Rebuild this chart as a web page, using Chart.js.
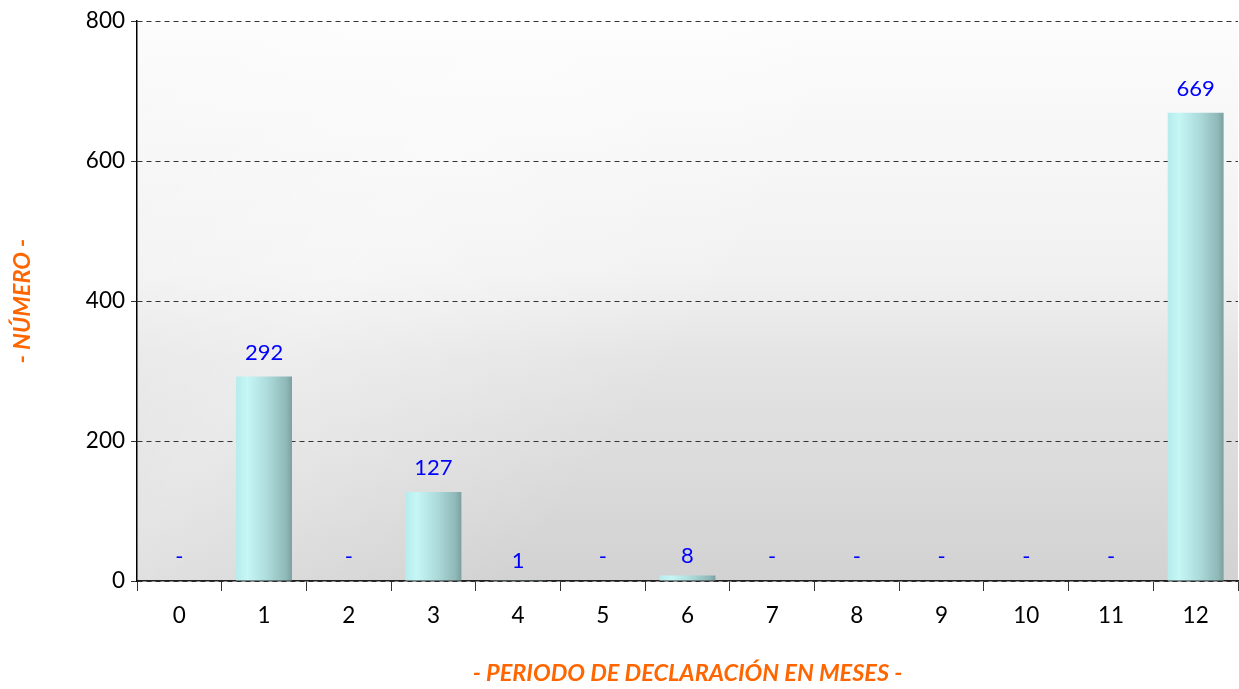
<!DOCTYPE html>
<html>
<head>
<meta charset="utf-8">
<script src="https://cdn.jsdelivr.net/npm/chart.js@4"></script>
<style>
  html, body { margin: 0; padding: 0; background: #ffffff; }
  #wrap { width: 1239px; height: 689px; }
</style>
</head>
<body>
<div id="wrap"><canvas id="myChart"></canvas></div>
<script>
const meses = ["0", "1", "2", "3", "4", "5", "6", "7", "8", "9", "10", "11", "12"];
const numero = [0, 292, 0, 127, 1, 0, 8, 0, 0, 0, 0, 0, 669];
const yTicks = [0, 200, 400, 600, 800];

const fontName = 'Lato, "Open Sans", sans-serif';

// plot area background (grey fade towards the bottom)
const plotBg = {
    id: 'plotBg',
    beforeDraw(chart) {
        const a = chart.chartArea;
        const c = chart.ctx;
        c.save();
        const g = c.createLinearGradient(0, a.top, 0, a.bottom);
        g.addColorStop(0, '#fcfcfc');
        g.addColorStop(0.45, '#f1f1f1');
        g.addColorStop(0.6, '#e4e4e4');
        g.addColorStop(1, '#d2d2d2');
        c.fillStyle = g;
        c.fillRect(a.left, a.top, a.right - a.left, a.bottom - a.top);
        const h = c.createLinearGradient(a.left, a.top, a.left + 500, a.top + 400);
        h.addColorStop(0, 'rgba(255,255,255,0.0)');
        h.addColorStop(0.5, 'rgba(255,255,255,0.35)');
        h.addColorStop(1, 'rgba(255,255,255,0.0)');
        c.fillStyle = h;
        c.fillRect(a.left, a.top, a.right - a.left, a.bottom - a.top);
        c.restore();
    }
};

// value labels above bars, "-" for zeros
const barLabels = {
    id: 'barLabels',
    afterDatasetsDraw(chart) {
        const c = chart.ctx;
        const meta = chart.getDatasetMeta(0);
        c.save();
        c.fillStyle = '#0000ff';
        c.font = '22px ' + fontName;
        c.textAlign = 'center';
        c.textBaseline = 'middle';
        meta.data.forEach((bar, i) => {
            const v = numero[i];
            const off = (v > 0 && v < 20) ? 19 : 24;
            c.fillText(v === 0 ? '-' : String(v), bar.x, bar.y - off);
        });
        c.restore();
    }
};

function barFill(context) {
    const chart = context.chart;
    const x = chart.scales.x;
    if (!chart.chartArea || !x) return '#b8e8e8';
    const cx = x.getPixelForValue(context.dataIndex);
    const half = (x.width / meses.length) * 0.66 / 2;
    const g = chart.ctx.createLinearGradient(cx - half, 0, cx + half, 0);
    g.addColorStop(0, '#b6ecec');
    g.addColorStop(0.2, '#c6f6f6');
    g.addColorStop(0.55, '#aedcdc');
    g.addColorStop(0.9, '#8fb8b8');
    g.addColorStop(1, '#7c9f9f');
    return g;
}

const ctx = document.getElementById('myChart').getContext('2d');
const myChart = new Chart(ctx, {
    type: 'bar',
    data: {
        labels: meses,
        datasets: [{
            label: 'Número',
            data: numero,
            backgroundColor: barFill,
            borderWidth: 0,
            barPercentage: 0.66,
            categoryPercentage: 1
        }]
    },
    options: {
        responsive: true,
        maintainAspectRatio: false,
        animation: false,
        layout: { padding: { top: 21, right: 1, left: 0, bottom: 0 } },
        plugins: {
            legend: { display: false },
            tooltip: { enabled: false }
        },
        scales: {
            x: {
                afterFit(scale) { scale.height = 108; },
                grid: {
                    drawOnChartArea: false,
                    drawTicks: true,
                    tickLength: 10,
                    color: '#333333'
                },
                border: { color: '#222222', width: 1.5 },
                ticks: {
                    color: '#000000',
                    font: { family: fontName, size: 22.5 },
                    padding: 11,
                    maxRotation: 0
                },
                title: {
                    display: true,
                    text: '- PERIODO DE DECLARACIÓN EN MESES -',
                    color: '#ff6600',
                    font: { family: fontName, size: 23.5, weight: 'bold', style: 'italic' },
                    padding: { top: 0, bottom: 1 }
                }
            },
            y: {
                min: 0,
                max: 800,
                afterFit(scale) { scale.width = 137; },
                afterBuildTicks(scale) { scale.ticks = yTicks.map(v => ({ value: v })); },
                grid: {
                    color: '#333333',
                    tickColor: '#333333',
                    tickLength: 6,
                    drawTicks: true
                },
                border: { color: '#000000', width: 1.5, dash: [5, 4] },
                ticks: {
                    color: '#000000',
                    font: { family: fontName, size: 22.5 },
                    padding: 6
                },
                title: {
                    display: true,
                    text: '- NÚMERO -',
                    color: '#ff6600',
                    font: { family: fontName, size: 23.5, weight: 'bold', style: 'italic' },
                    padding: { top: 8, bottom: 0 }
                }
            }
        }
    },
    plugins: [plotBg, barLabels]
});
</script>
</body>
</html>
